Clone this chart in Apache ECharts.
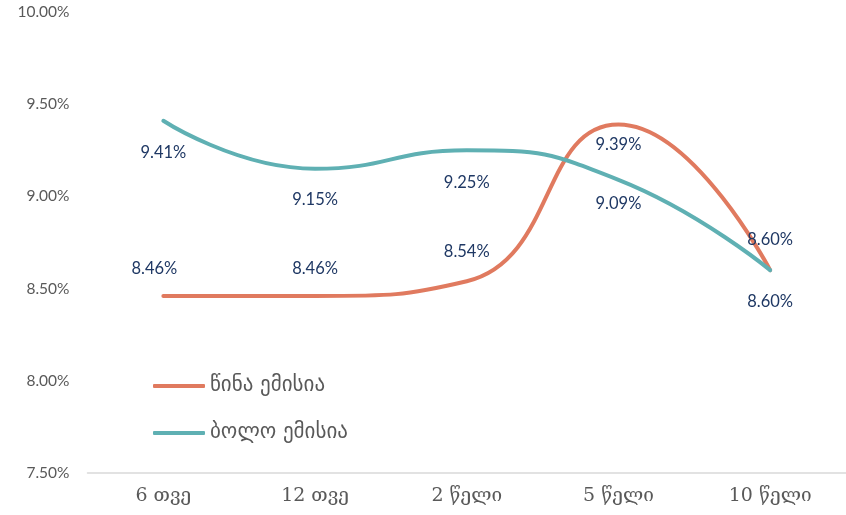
<!DOCTYPE html>
<html>
<head>
<meta charset="utf-8">
<script src="https://cdn.jsdelivr.net/npm/echarts@6/dist/echarts.min.js"></script>
<style>html,body{margin:0;padding:0;background:#fff}#c{width:846px;height:515px}</style>
</head>
<body>
<div id="c"></div>
<script>
const categories = ['6 თვე', '12 თვე', '2 წელი', '5 წელი', '10 წელი'];
const seriesNames = ['წინა ემისია', 'ბოლო ემისია'];
const prevIssue = [8.46, 8.46, 8.54, 9.39, 8.60];
const lastIssue = [9.41, 9.15, 9.25, 9.09, 8.60];
const yTicks = [7.5, 8.0, 8.5, 9.0, 9.5, 10.0];

// label placement per point (style only)
const prevLabelPos = [['top', 18, -9], ['top', 18, 0], ['top', 21, 0], ['bottom', 11, 0], ['top', 21, 0]];
const lastLabelPos = [['bottom', 23, 0], ['bottom', 22, 0], ['bottom', 23, 0], ['bottom', 15, 0], ['bottom', 23, 0]];

function buildData(vals, pos) {
  return vals.map((v, i) => ({
    value: v,
    label: { position: pos[i][0], distance: pos[i][1], offset: [pos[i][2], 0] }
  }));
}

const chart = echarts.init(document.getElementById('c'), null, { renderer: 'canvas' });
const labelStyle = {
  show: true,
  color: '#1F3864',
  fontFamily: 'Lato, "Open Sans", sans-serif',
  fontSize: 16.5,
  formatter: p => p.value.toFixed(2) + '%'
};
chart.setOption({
  animation: false,
  grid: { left: 87.5, top: 12, width: 766, bottom: 42, containLabel: false },
  xAxis: {
    type: 'category',
    data: categories,
    boundaryGap: true,
    axisLine: { lineStyle: { color: '#D9D9D9', width: 1.5 } },
    axisTick: { show: false },
    axisLabel: { color: '#595959', fontFamily: '"DejaVu Serif", serif', fontSize: 19, margin: 14 }
  },
  yAxis: {
    type: 'value',
    min: yTicks[0],
    max: yTicks[yTicks.length - 1],
    interval: 0.5,
    splitLine: { show: false },
    axisLine: { show: false },
    axisTick: { show: false },
    axisLabel: {
      color: '#595959',
      fontFamily: 'Lato, "Open Sans", sans-serif',
      fontSize: 15.5,
      margin: 18,
      formatter: v => v.toFixed(2) + '%'
    }
  },
  legend: {
    orient: 'vertical',
    left: 148,
    top: 368,
    itemWidth: 52,
    itemHeight: 4,
    itemGap: 21,
    icon: 'roundRect',
    textStyle: { color: '#595959', fontFamily: '"DejaVu Sans", sans-serif', fontSize: 21, lineHeight: 26, padding: [0, 0, 0, 0] },
    data: seriesNames
  },
  series: [
    {
      name: seriesNames[0],
      type: 'line',
      smooth: 0.5,
      data: buildData(prevIssue, prevLabelPos),
      symbol: 'circle',
      symbolSize: 1,
      lineStyle: { color: '#E07A5F', width: 4, cap: 'round' },
      itemStyle: { color: '#E07A5F' },
      label: labelStyle,
      z: 3
    },
    {
      name: seriesNames[1],
      type: 'line',
      smooth: 0.5,
      data: buildData(lastIssue, lastLabelPos),
      symbol: 'circle',
      symbolSize: 1,
      lineStyle: { color: '#5FB0B3', width: 4, cap: 'round' },
      itemStyle: { color: '#5FB0B3' },
      label: labelStyle,
      z: 4
    }
  ]
});
</script>
</body>
</html>
